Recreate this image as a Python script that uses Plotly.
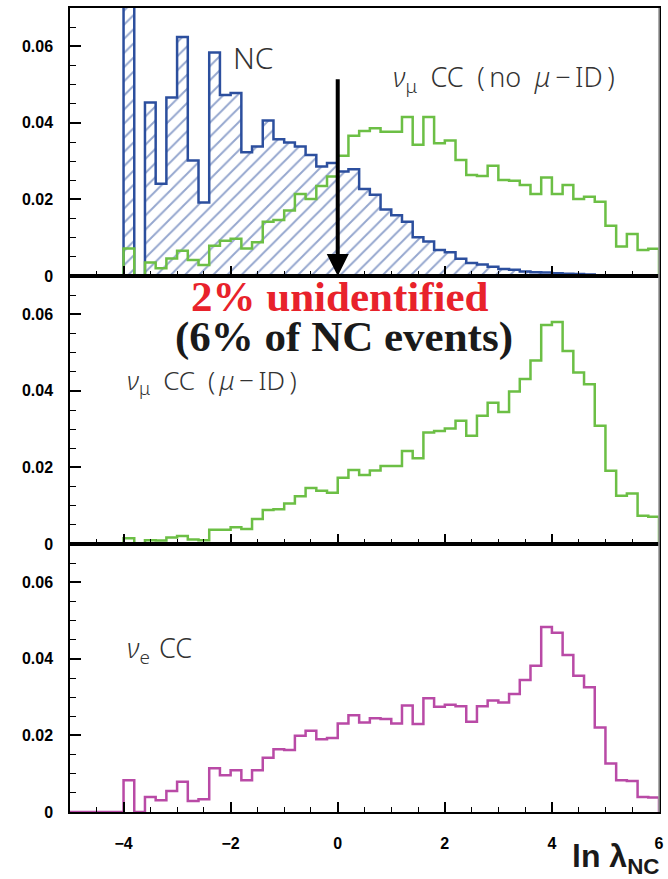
import plotly.graph_objects as go

# ---------------- data ----------------
BIN_LO = -5.0
BIN_W = 0.2
N_BINS = 55  # bins from -5 to 6

# NC (hatched, top panel)
nc = [0, 0, 0, 0, 0,
      0.0705, 0, 0.0453, 0.0241, 0.0466, 0.0624, 0.0302, 0.0192, 0.0584, 0.0473,
      0.0478, 0.0323, 0.0338, 0.0406, 0.0357, 0.0349, 0.0338, 0.0316, 0.0286, 0.0295,
      0.0273, 0.0279, 0.0227, 0.0212, 0.0174, 0.0159, 0.0142, 0.0101, 0.0090, 0.0068,
      0.0062, 0.0045, 0.0034, 0.0030, 0.0024, 0.0018, 0.0016, 0.0012, 0.0010, 0.0009,
      0.0007, 0.0006, 0.0005, 0.0004, 0, 0, 0, 0, 0, 0]

# nu_mu CC (no mu-ID), top panel
numu_noid = [0, 0, 0, 0, 0,
             0.0072, 0, 0.0035, 0.0020, 0.0046, 0.0066, 0.0042, 0.0029, 0.0079, 0.0092,
             0.0097, 0.0072, 0.0088, 0.0142, 0.0146, 0.0171, 0.0214, 0.0201, 0.0235, 0.0260,
             0.0314, 0.0366, 0.0379, 0.0386, 0.0377, 0.0377, 0.0415, 0.0343, 0.0415, 0.0347,
             0.0354, 0.0303, 0.0264, 0.0261, 0.0288, 0.0251, 0.0249, 0.0238, 0.0214, 0.0257,
             0.0214, 0.0238, 0.0201, 0.0207, 0.0194, 0.0131, 0.0077, 0.0110, 0.0068, 0.0071]

# nu_mu CC (mu-ID), middle panel
numu_id = [0, 0, 0, 0, 0,
           0.0015, 0, 0.0010, 0.0009, 0.0017, 0.0021, 0.0012, 0.0010, 0.0037, 0.0037,
           0.0044, 0.0039, 0.0065, 0.0089, 0.0091, 0.0106, 0.0125, 0.0146, 0.0139, 0.0134,
           0.0173, 0.0193, 0.0180, 0.0192, 0.0204, 0.0204, 0.0243, 0.0224, 0.0291, 0.0295,
           0.0302, 0.0322, 0.0283, 0.0335, 0.0369, 0.0345, 0.0398, 0.0431, 0.0479, 0.0572,
           0.0580, 0.0504, 0.0448, 0.0417, 0.0309, 0.0191, 0.0126, 0.0132, 0.0074, 0.0071]

# nu_e CC, bottom panel
nue = [0, 0, 0, 0, 0,
       0.0083, 0, 0.0039, 0.0031, 0.0055, 0.0079, 0.0029, 0.0033, 0.0114, 0.0096,
       0.0109, 0.0083, 0.0109, 0.0142, 0.0164, 0.0162, 0.0199, 0.0212, 0.0190, 0.0193,
       0.0231, 0.0253, 0.0234, 0.0245, 0.0243, 0.0231, 0.0278, 0.0230, 0.0297, 0.0275,
       0.0280, 0.0276, 0.0236, 0.0276, 0.0291, 0.0286, 0.0308, 0.0345, 0.0382, 0.0483,
       0.0468, 0.0410, 0.0356, 0.0326, 0.0221, 0.0127, 0.0083, 0.0081, 0.0039, 0.0038]

x_tickvals = [-4, -2, 0, 2, 4, 6]
y_tickvals = [0, 0.02, 0.04, 0.06]
y_ticktext = ["0", "0.02", "0.04", "0.06"]

# ---------------- figure ----------------
edges = [round(BIN_LO + i * BIN_W, 3) for i in range(N_BINS + 1)]


def step_y(vals):
    return list(vals) + [0.0]


BLUE = "#2c4f9e"
GREEN = "#6cbf45"
MAGENTA = "#b94aa6"

fig = go.Figure()

fig.add_trace(go.Scatter(
    x=edges, y=step_y(nc), mode="lines", xaxis="x", yaxis="y",
    line=dict(shape="hv", color=BLUE, width=2.5),
    fill="tozeroy",
    fillpattern=dict(shape="/", fgcolor=BLUE, bgcolor="white", size=10, solidity=0.2),
    showlegend=False, hoverinfo="skip"))
fig.add_trace(go.Scatter(
    x=edges, y=step_y(numu_noid), mode="lines", xaxis="x", yaxis="y",
    line=dict(shape="hv", color=GREEN, width=2.5), showlegend=False, hoverinfo="skip"))
fig.add_trace(go.Scatter(
    x=edges, y=step_y(numu_id), mode="lines", xaxis="x2", yaxis="y2",
    line=dict(shape="hv", color=GREEN, width=2.5), showlegend=False, hoverinfo="skip"))
fig.add_trace(go.Scatter(
    x=edges, y=step_y(nue), mode="lines", xaxis="x3", yaxis="y3",
    line=dict(shape="hv", color=MAGENTA, width=2.5), showlegend=False, hoverinfo="skip"))

tickfont = dict(family="Liberation Sans, Arial, sans-serif", size=16, color="black", weight="bold")

xcommon = dict(range=[-5, 6], showline=True, linecolor="black", linewidth=1.5, mirror=True,
               ticks="inside", ticklen=10, tickwidth=1.5, tickcolor="black",
               tickvals=x_tickvals, showgrid=False, zeroline=False,
               minor=dict(dtick=0.5, tick0=0, ticklen=5, tickwidth=1, tickcolor="black",
                          ticks="inside", showgrid=False))
ycommon = dict(range=[0, 0.07], showline=True, linecolor="black", linewidth=1.5, mirror=True,
               ticks="inside", ticklen=11, tickwidth=1.5, tickcolor="black",
               tickvals=y_tickvals, ticktext=y_ticktext, tickfont=tickfont,
               ticklabelstandoff=12, showgrid=False, zeroline=False,
               minor=dict(dtick=0.005, tick0=0, ticklen=6, tickwidth=1, tickcolor="black",
                          ticks="inside", showgrid=False))

fig.update_layout(
    width=668, height=879,
    margin=dict(l=70, r=4, t=8, b=67),
    paper_bgcolor="white", plot_bgcolor="white",
    xaxis=dict(**xcommon, anchor="y", showticklabels=False),
    xaxis2=dict(**xcommon, anchor="y2", showticklabels=False, matches="x"),
    xaxis3=dict(**xcommon, anchor="y3", showticklabels=True, tickfont=tickfont,
                ticklabelstandoff=16, matches="x"),
    yaxis=dict(**ycommon, domain=[2 / 3, 1], anchor="x"),
    yaxis2=dict(**ycommon, domain=[1 / 3, 2 / 3], anchor="x2"),
    yaxis3=dict(**ycommon, domain=[0, 1 / 3], anchor="x3"),
)

# lighter right-hand frame, as in the reference
fig.add_shape(type="line", xref="paper", yref="paper", x0=1, x1=1, y0=0, y1=1,
              line=dict(color="#9a9a9a", width=1.6), layer="above")


def lfont(size):
    return dict(family="Noto Sans, Open Sans, sans-serif", size=size, color="#333333", weight=300)


TS = "\u2009"  # thin space
ES = "\u2002"  # en space
annotations = [
    dict(x=-2.0, y=0.057, xref="x", yref="y", text="NC", showarrow=False,
         xanchor="left", yanchor="middle", font=lfont(30)),
    dict(x=1.0, y=0.0515, xref="x", yref="y",
         text=f"<i>ν</i><sub>μ</sub>{ES}CC{ES}({TS}no{ES}<i>μ</i>{TS}−{TS}ID{TS})",
         showarrow=False, xanchor="left", yanchor="middle", font=lfont(27)),
    dict(x=-3.98, y=0.0425, xref="x2", yref="y2",
         text=f"<i>ν</i><sub>μ</sub>{ES}CC{ES}({TS}<i>μ</i>{TS}−{TS}ID{TS})",
         showarrow=False, xanchor="left", yanchor="middle", font=lfont(26)),
    dict(x=-3.98, y=0.0425, xref="x3", yref="y3",
         text=f"<i>ν</i><sub>e</sub>{TS}{TS}CC", showarrow=False,
         xanchor="left", yanchor="middle", font=lfont(27)),
    # arrow at ln(lambda)=0
    dict(x=0, y=0, xref="x", yref="y", ax=0, ay=0.0518, axref="x", ayref="y",
         text="", showarrow=True, arrowhead=2, arrowsize=1.1, arrowwidth=4,
         arrowcolor="black", standoff=0),
    dict(x=0.458, y=0.641, xref="paper", yref="paper", text="<b>2% unidentified</b>",
         showarrow=False, xanchor="center", yanchor="middle",
         font=dict(family="Liberation Serif, Times New Roman, serif", size=43, color="#e8222b")),
    dict(x=0.466, y=0.591, xref="paper", yref="paper", text="<b>(6% of NC events)</b>",
         showarrow=False, xanchor="center", yanchor="middle",
         font=dict(family="Liberation Serif, Times New Roman, serif", size=43, color="#1a1a1a")),
    dict(x=1.003, y=-0.058, xref="paper", yref="paper", text="<b>ln λ<sub>NC</sub></b>",
         showarrow=False, xanchor="right", yanchor="middle",
         font=dict(family="Liberation Sans, Arial, sans-serif", size=32, color="#1a1a1a")),
]
fig.update_layout(annotations=annotations)

fig.write_html("out.html")
